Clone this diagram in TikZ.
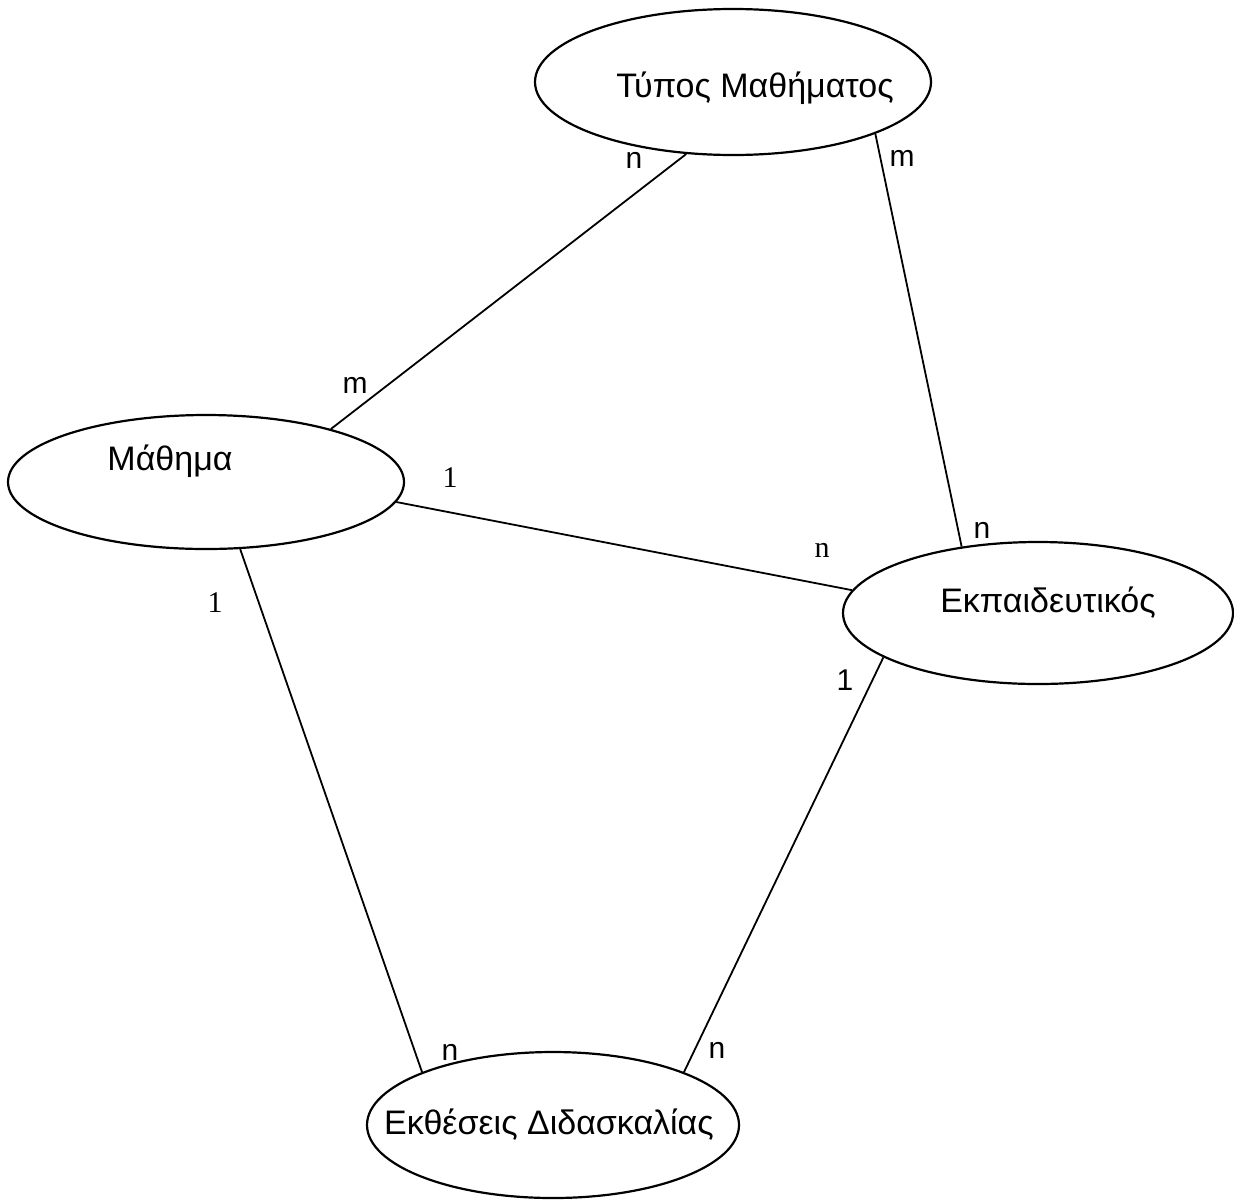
\documentclass[tikz,border=0pt]{standalone}
\usepackage{fontspec}
\setmainfont{Liberation Sans}
\newfontfamily\seriflab{Liberation Serif}
\usetikzlibrary{shapes.geometric}

\begin{document}
\begin{tikzpicture}[
    x=0.5pt, y=-0.5pt,
    entity/.style={ellipse, draw=black, line width=1.1pt, inner sep=0pt},
    etext/.style={font=\fontsize{17}{20}\selectfont, inner sep=0pt},
    card/.style={font=\fontsize{15}{18}\selectfont, inner sep=0pt},
    scard/.style={font=\seriflab\fontsize{15}{18}\selectfont, inner sep=0pt},
    link/.style={line width=0.9pt}
]
\useasboundingbox (0,0) rectangle (1234,1199);

\node[entity, minimum width=198pt, minimum height=73pt] (typ) at (733,82) {};
\node[entity, minimum width=198pt, minimum height=67pt] (mat) at (206,482) {};
\node[entity, minimum width=195pt, minimum height=71pt] (ekp) at (1038,613) {};
\node[entity, minimum width=186pt, minimum height=73pt] (ekth) at (553,1125) {};

\node[etext] (typT) at (755,88) {Τύπος Μαθήματος};
\node[etext] (matT) at (170,461) {Μάθημα};
\node[etext] (ekpT) at (1048,603) {Εκπαιδευτικός};
\node[etext] (ekthT) at (549,1125) {Εκθέσεις Διδασκαλίας};

\draw[link] (typ.237) -- (mat.23);
\draw[link] (typ.340) -- (ekp.139);
\draw[link] (mat.354) -- (ekp.173);
\draw[link] (mat.297) -- (ekth.158);
\draw[link] (ekp.196) -- (ekth.22);

% cardinalities
\node[card] (c1) at (634,160) {n};
\node[card] (c2) at (355,385) {m};
\node[card] (c3) at (902,158) {m};
\node[card] (c4) at (982,530) {n};
\node[scard] (c5) at (450,478) {1};
\node[scard] (c6) at (822,550) {n};
\node[scard] (c7) at (215,603) {1};
\node[card] (c8) at (450,1052) {n};
\node[card] (c9) at (845,680) {1};
\node[card] (c10) at (717,1050) {n};
\end{tikzpicture}
\end{document}
